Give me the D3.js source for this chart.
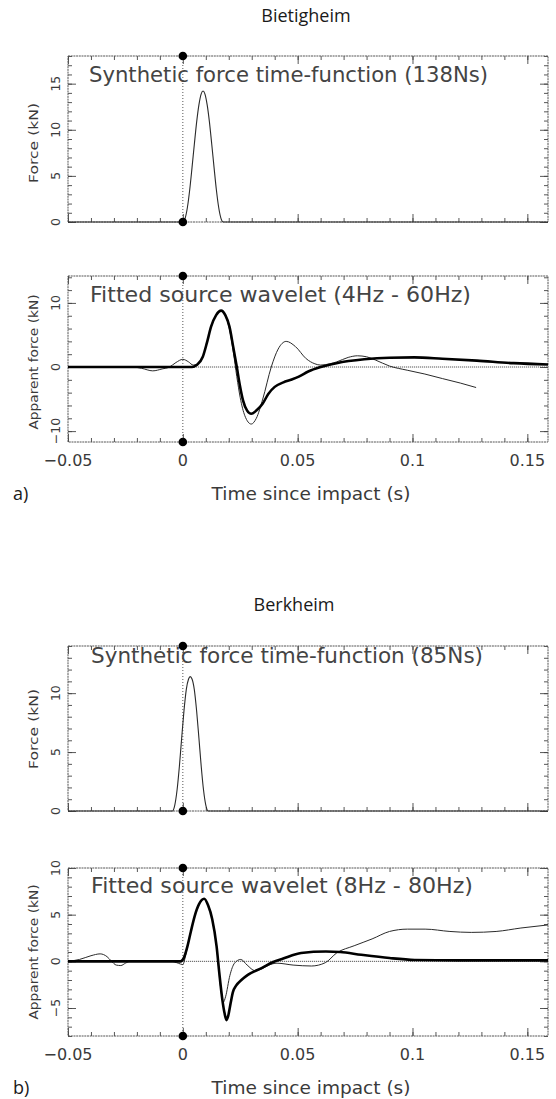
<!DOCTYPE html>
<html><head><meta charset="utf-8">
<script src="https://cdn.jsdelivr.net/npm/d3@7/dist/d3.min.js"></script>
<style>body{margin:0;background:#fff}svg{display:block}</style>
</head><body>
<script>
// ---------------- data ----------------
const xTickValues = [-0.05, 0, 0.05, 0.1, 0.15];
const xTickLabels = ["\u22120.05", "0", "0.05", "0.1", "0.15"];

const p1YTicks = [0, 5, 10, 15];
const p2YTicks = [-10, 0, 10];
const p3YTicks = [0, 5, 10];
const p4YTicks = [-5, 0, 5, 10];
const p2YLabels = ["\u221210", "0", "10"];
const p4YLabels = ["\u22125", "0", "5", "10"];

// Bietigheim synthetic force (kN)
const bietSynthT = [-0.05, 0, 0.001, 0.002, 0.003, 0.004, 0.005, 0.006, 0.007, 0.008, 0.0088, 0.0096, 0.0106, 0.0116, 0.0126, 0.0136, 0.0146, 0.0156, 0.0166, 0.0176, 0.159];
const bietSynthF = [0, 0, 0.4, 1.6, 3.5, 5.9, 8.4, 10.8, 12.7, 13.9, 14.2, 13.9, 12.7, 10.8, 8.4, 5.9, 3.5, 1.6, 0.4, 0, 0];

// Bietigheim fitted wavelet: model (thick) and observed (thin)
const bietModelT = [-0.05, 0.004, 0.006, 0.0087, 0.0105, 0.0123, 0.0145, 0.0167, 0.0185, 0.0203, 0.022, 0.0235, 0.0248, 0.0262, 0.028, 0.0298, 0.032, 0.0348, 0.0372, 0.0400, 0.0438, 0.0470, 0.0505, 0.0546, 0.0600, 0.0669, 0.079, 0.090, 0.1008, 0.113, 0.128, 0.144, 0.159];
const bietModelF = [0, 0, 0.3, 1.6, 3.8, 6.3, 8.1, 8.8, 8.1, 6.3, 3.0, 0, -2.8, -5.2, -6.8, -7.3, -6.8, -5.7, -4.2, -3.1, -2.4, -2.0, -1.5, -0.7, 0, 0.6, 1.2, 1.45, 1.5, 1.3, 1.0, 0.6, 0.4];
const bietObsT = [-0.05, -0.022, -0.018, -0.0131, -0.009, -0.0058, -0.003, 0, 0.0025, 0.0045, 0.0065, 0.0087, 0.0105, 0.0123, 0.0145, 0.0167, 0.0185, 0.0203, 0.022, 0.0235, 0.025, 0.027, 0.0298, 0.032, 0.0348, 0.0385, 0.0415, 0.045, 0.049, 0.0537, 0.0575, 0.060, 0.064, 0.067, 0.072, 0.076, 0.080, 0.0838, 0.090, 0.0977, 0.1054, 0.113, 0.1208, 0.1277];
const bietObsF = [0, 0, -0.2, -0.6, -0.3, 0, 0.7, 1.2, 0.8, 0.3, 0.5, 1.6, 3.8, 6.3, 8.1, 8.8, 8.0, 5.9, 2.3, -1.5, -4.8, -7.6, -8.9, -8.0, -5.0, 0, 2.8, 4.0, 3.2, 1.3, 0.5, 0.3, 0.5, 0.8, 1.5, 1.75, 1.6, 1.1, 0.15, -0.5, -1.1, -1.8, -2.5, -3.2];

// Berkheim synthetic force (kN)
const berkSynthT = [-0.05, -0.0045, -0.0035, -0.0025, -0.0015, -0.0005, 0.0005, 0.0015, 0.0025, 0.0032, 0.004, 0.005, 0.006, 0.007, 0.008, 0.009, 0.010, 0.011, 0.159];
const berkSynthF = [0, 0, 0.5, 1.8, 3.8, 6.2, 8.5, 10.3, 11.2, 11.4, 11.2, 10.3, 8.5, 6.2, 3.8, 1.8, 0.5, 0, 0];

// Berkheim fitted wavelet: model (thick) and observed (thin)
const berkModelT = [-0.05, -0.001, 0.0005, 0.002, 0.0035, 0.0051, 0.007, 0.0093, 0.011, 0.0128, 0.0147, 0.0159, 0.0172, 0.0182, 0.019, 0.0198, 0.0208, 0.0218, 0.0232, 0.0255, 0.0283, 0.0345, 0.0391, 0.0437, 0.0515, 0.0623, 0.0685, 0.0777, 0.090, 0.101, 0.120, 0.159];
const berkModelF = [0, 0, 0.4, 1.6, 3.2, 4.8, 6.1, 6.7, 6.0, 4.5, 1.6, -1.3, -4.1, -5.6, -6.3, -5.8, -4.5, -3.3, -2.6, -2.0, -1.45, -0.7, -0.1, 0.3, 0.9, 1.05, 1.0, 0.7, 0.35, 0.15, 0.1, 0.1];
const berkObsT = [-0.05, -0.045, -0.04, -0.036, -0.033, -0.031, -0.029, -0.027, -0.025, -0.023, -0.005, -0.002, 0, 0.001, 0.002, 0.0035, 0.0051, 0.007, 0.0093, 0.011, 0.0128, 0.0147, 0.0159, 0.0168, 0.0176, 0.0186, 0.0205, 0.0225, 0.0252, 0.028, 0.0314, 0.0345, 0.0375, 0.041, 0.048, 0.056, 0.062, 0.067, 0.0746, 0.0824, 0.090, 0.0978, 0.1055, 0.1163, 0.1256, 0.1364, 0.1472, 0.159];
const berkObsF = [0, 0.2, 0.6, 0.8, 0.5, 0, -0.4, -0.45, -0.2, 0, 0, -0.2, -0.35, 0.4, 1.6, 3.2, 4.8, 6.1, 6.7, 6.0, 4.5, 1.6, -1.5, -3.5, -4.4, -3.8, -1.5, -0.2, 0.2, -0.4, -1.0, -0.8, -0.4, -0.2, -0.4, -0.5, -0.15, 0.9, 1.67, 2.4, 3.2, 3.45, 3.45, 3.2, 3.1, 3.2, 3.57, 3.9];

// ---------------- drawing ----------------
const W = 556, H = 1099;
const X0 = 68, X1 = 548;
const xDomain = [-0.05, 0.159];
const hersheyFont = "'DejaVu Sans', sans-serif";
const titleFont = "'Open Sans', 'Noto Sans', sans-serif";
const textCol = "#3a3a3a";

const svg = d3.select("body").append("svg").attr("width", W).attr("height", H);
const x = d3.scaleLinear().domain(xDomain).range([X0, X1]);

function minorRange(lo, hi, step) {
  const a = Math.ceil(lo / step - 1e-9) * step;
  return d3.range(a, hi + 1e-9, step).map(v => +v.toFixed(6));
}

function drawPanel(cfg) {
  const y = d3.scaleLinear().domain(cfg.yDomain).range([cfg.bottom, cfg.top]);
  const g = svg.append("g");
  const h = cfg.bottom - cfg.top;

  if (cfg.zeroLine) {
    g.append("line").attr("x1", X0).attr("x2", X1).attr("y1", y(0)).attr("y2", y(0))
      .attr("stroke", "#444").attr("stroke-width", 0.9).attr("stroke-dasharray", "1.2,0.8");
  }
  g.append("line").attr("x1", x(0)).attr("x2", x(0)).attr("y1", cfg.top).attr("y2", cfg.bottom)
    .attr("stroke", "#444").attr("stroke-width", 0.9).attr("stroke-dasharray", "1,2");

  const xMinor = minorRange(xDomain[0], xDomain[1], 0.01);
  const yMinor = minorRange(cfg.yDomain[0], cfg.yDomain[1], cfg.yMinorStep);
  const tickStyle = sel => { sel.select(".domain").remove(); sel.selectAll("line").attr("stroke", "#444").attr("stroke-width", 0.9); };
  g.append("g").attr("transform", `translate(0,${cfg.bottom})`).call(d3.axisBottom(x).tickValues(xMinor).tickSize(-4).tickFormat("")).call(tickStyle);
  g.append("g").attr("transform", `translate(0,${cfg.bottom})`).call(d3.axisBottom(x).tickValues(xTickValues).tickSize(-8).tickFormat("")).call(tickStyle);
  g.append("g").attr("transform", `translate(0,${cfg.top})`).call(d3.axisTop(x).tickValues(xMinor).tickSize(-4).tickFormat("")).call(tickStyle);
  g.append("g").attr("transform", `translate(0,${cfg.top})`).call(d3.axisTop(x).tickValues(xTickValues).tickSize(-8).tickFormat("")).call(tickStyle);
  g.append("g").attr("transform", `translate(${X0},0)`).call(d3.axisLeft(y).tickValues(yMinor).tickSize(-4).tickFormat("")).call(tickStyle);
  g.append("g").attr("transform", `translate(${X0},0)`).call(d3.axisLeft(y).tickValues(cfg.yTicks).tickSize(-8).tickFormat("")).call(tickStyle);
  g.append("g").attr("transform", `translate(${X1},0)`).call(d3.axisRight(y).tickValues(yMinor).tickSize(-4).tickFormat("")).call(tickStyle);
  g.append("g").attr("transform", `translate(${X1},0)`).call(d3.axisRight(y).tickValues(cfg.yTicks).tickSize(-8).tickFormat("")).call(tickStyle);

  g.append("rect").attr("x", X0).attr("y", cfg.top).attr("width", X1 - X0).attr("height", h)
    .attr("fill", "none").attr("stroke", "#555").attr("stroke-width", 1).attr("stroke-dasharray", "2,0.7");

  const line = d3.line().x(d => x(d[0])).y(d => y(d[1])).curve(d3.curveMonotoneX);
  cfg.series.forEach(s => {
    g.append("path").datum(d3.zip(s.t, s.v)).attr("d", line)
      .attr("fill", "none").attr("stroke", s.color).attr("stroke-width", s.width)
      .attr("stroke-linejoin", "round");
  });

  cfg.yTicks.forEach((v, i) => {
    g.append("text").attr("transform", `translate(55,${y(v)}) rotate(-90)`)
      .attr("text-anchor", "middle").attr("dy", "0.36em")
      .attr("font-family", hersheyFont).attr("font-size", 12.5).attr("fill", textCol)
      .text(cfg.yLabels ? cfg.yLabels[i] : String(v));
  });
  g.append("text").attr("transform", `translate(33,${cfg.titleY}) rotate(-90)`)
    .attr("text-anchor", "middle").attr("dy", "0.36em")
    .attr("font-family", hersheyFont).attr("font-size", 13).attr("fill", textCol)
    .attr("textLength", cfg.yTitleLen).attr("lengthAdjust", "spacingAndGlyphs")
    .text(cfg.yTitle);

  g.append("text").attr("x", cfg.noteX).attr("y", cfg.noteY)
    .attr("font-family", hersheyFont).attr("font-size", 21).attr("fill", "#444")
    .attr("textLength", cfg.noteLen).attr("lengthAdjust", "spacingAndGlyphs")
    .text(cfg.note);

  if (cfg.xLabels) {
    xTickValues.forEach((v, i) => {
      g.append("text").attr("x", x(v)).attr("y", cfg.bottom + 24)
        .attr("text-anchor", "middle")
        .attr("font-family", hersheyFont).attr("font-size", 16).attr("fill", textCol)
        .text(xTickLabels[i]);
    });
  }

  [cfg.top, cfg.bottom].forEach(yy => {
    g.append("circle").attr("cx", x(0)).attr("cy", yy).attr("r", 4.3).attr("fill", "#000");
  });
}

const thin = "#2a2a2a", thick = "#000";

drawPanel({
  top: 56, bottom: 222, yDomain: [0, 18], yTicks: p1YTicks, yMinorStep: 1,
  yTitle: "Force (kN)", yTitleLen: 80, titleY: 143,
  note: "Synthetic force time-function (138Ns)", noteX: 89, noteY: 82, noteLen: 399,
  series: [{ t: bietSynthT, v: bietSynthF, color: thin, width: 1.1 }]
});
drawPanel({
  top: 276, bottom: 442, yDomain: [-11.7, 14.2], yTicks: p2YTicks, yLabels: p2YLabels, yMinorStep: 2,
  yTitle: "Apparent force (kN)", yTitleLen: 135, titleY: 362, zeroLine: true, xLabels: true,
  note: "Fitted source wavelet (4Hz - 60Hz)", noteX: 90, noteY: 302, noteLen: 381,
  series: [{ t: bietObsT, v: bietObsF, color: thin, width: 1.0 },
           { t: bietModelT, v: bietModelF, color: thick, width: 2.6 }]
});
drawPanel({
  top: 646, bottom: 811, yDomain: [0, 14], yTicks: p3YTicks, yMinorStep: 1,
  yTitle: "Force (kN)", yTitleLen: 80, titleY: 729,
  note: "Synthetic force time-function (85Ns)", noteX: 91, noteY: 663, noteLen: 392,
  series: [{ t: berkSynthT, v: berkSynthF, color: thin, width: 1.1 }]
});
drawPanel({
  top: 868, bottom: 1036, yDomain: [-8, 10], yTicks: p4YTicks, yLabels: p4YLabels, yMinorStep: 1,
  yTitle: "Apparent force (kN)", yTitleLen: 135, titleY: 952, zeroLine: true, xLabels: true,
  note: "Fitted source wavelet (8Hz - 80Hz)", noteX: 91, noteY: 893, noteLen: 382,
  series: [{ t: berkObsT, v: berkObsF, color: thin, width: 1.0 },
           { t: berkModelT, v: berkModelF, color: thick, width: 2.6 }]
});

svg.append("text").attr("x", 306).attr("y", 22).attr("text-anchor", "middle")
  .attr("font-family", titleFont).attr("font-size", 18).attr("fill", "#1a1a1a").text("Bietigheim");
svg.append("text").attr("x", 294).attr("y", 611).attr("text-anchor", "middle")
  .attr("font-family", titleFont).attr("font-size", 18).attr("fill", "#1a1a1a").text("Berkheim");

[["a)", 500], ["b)", 1094]].forEach(([lab, yy]) => {
  svg.append("text").attr("x", 13).attr("y", yy)
    .attr("font-family", titleFont).attr("font-size", 18).attr("fill", "#1a1a1a").text(lab);
  svg.append("text").attr("x", 311).attr("y", yy).attr("text-anchor", "middle")
    .attr("font-family", hersheyFont).attr("font-size", 17).attr("fill", textCol)
    .attr("textLength", 199).attr("lengthAdjust", "spacingAndGlyphs")
    .text("Time since impact (s)");
});
</script>
</body></html>
